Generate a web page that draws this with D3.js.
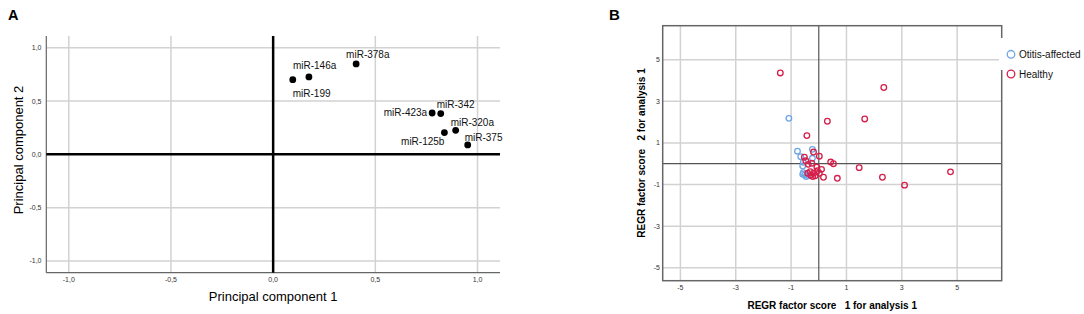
<!DOCTYPE html>
<html>
<head>
<meta charset="utf-8">
<script src="https://cdn.jsdelivr.net/npm/d3@7"></script>
<style>
  body { margin: 0; background: #fff; }
  svg { font-family: "Liberation Sans", Arial, sans-serif; }
  .tick-lbl { font-size: 7px; fill: #333; }
  .grid { stroke: #d2d2d2; stroke-width: 1.5; }
</style>
</head>
<body>
<div id="graf"></div>
<script>
// panel A: loadings
const mirnas = ["miR-199", "miR-146a", "miR-378a", "miR-423a", "miR-342", "miR-320a", "miR-125b", "miR-375"]
const pc1 = [0.096, 0.175, 0.406, 0.778, 0.82, 0.893, 0.838, 0.952]
const pc2 = [0.70, 0.726, 0.848, 0.388, 0.382, 0.225, 0.204, 0.088]
const ticksA = [-1, -0.5, 0, 0.5, 1]

// panel B: factor scores
const healthyX = [-1.39, 2.35, 1.66, 0.31, -0.43, -0.19, 0.02, -0.52, -0.47, 0.43, 0.53, 1.46, 4.76, 2.3, 3.1,
  -0.38, -0.25, -0.07, 0.1, -0.31, -0.19, -0.4, -0.29, -0.13, 0.02, 0.17, 0.67, -0.05, -0.22]
const healthyY = [4.36, 3.66, 2.15, 2.04, 1.35, 0.56, 0.36, 0.31, 0.14, 0.08, 0.0, -0.19, -0.39, -0.65, -1.03,
  -0.03, 0.02, -0.17, -0.27, -0.38, -0.46, -0.46, -0.56, -0.58, -0.46, -0.65, -0.7, -0.34, -0.62]
const otitisX = [-1.08, -0.77, -0.23, -0.65, -0.23, -0.56, -0.58, -0.56, -0.5, -0.58, -0.46, -0.37]
const otitisY = [2.18, 0.6, 0.69, 0.34, 0.26, 0.07, -0.11, -0.43, -0.54, -0.51, -0.62, -0.58]
const ticksB = [-5, -3, -1, 1, 3, 5]
const groups = ["Otitis-affected", "Healthy"]
const groupColors = ["#6ea7e6", "#d61f4b"]

// label placement for panel A (dx, dy, anchor)
const labelPos = [
  [0, 17, "start"], [-16, -8, "start"], [-10, -6, "start"], [-5, 3.5, "end"],
  [-4, -6, "start"], [-5, -4.5, "start"], [0, 12.5, "end"], [-3, -4, "start"]
]

const svg = d3.select("#graf")
  .append("svg")
  .attr("width", 1084)
  .attr("height", 314)

const fmt = (v) => d3.format(".1f")(v).replace(".", ",").replace("−", "-")

// ---------- Panel A ----------
const xA = d3.scaleLinear().domain([-1.11, 1.11]).range([46.3, 500])
const yA = d3.scaleLinear().domain([-1.11, 1.11]).range([272.7, 36])
const gA = svg.append("g")

gA.selectAll(".gx")
  .data(ticksA.filter((t) => t != 0))
  .join("line")
  .attr("class", "grid")
  .attr("x1", (d) => xA(d)).attr("x2", (d) => xA(d))
  .attr("y1", yA.range()[1]).attr("y2", yA.range()[0])

gA.selectAll(".gy")
  .data(ticksA.filter((t) => t != 0))
  .join("line")
  .attr("class", "grid")
  .attr("x1", xA.range()[0]).attr("x2", xA.range()[1])
  .attr("y1", (d) => yA(d)).attr("y2", (d) => yA(d))

// axis lines
gA.append("line")
  .attr("x1", xA.range()[0]).attr("x2", xA.range()[0])
  .attr("y1", yA.range()[1]).attr("y2", yA.range()[0])
  .attr("stroke", "#666").attr("stroke-width", 1.2)
gA.append("line")
  .attr("x1", xA.range()[0]).attr("x2", xA.range()[1])
  .attr("y1", yA.range()[0]).attr("y2", yA.range()[0])
  .attr("stroke", "#666").attr("stroke-width", 1.2)

// zero lines
gA.append("line")
  .attr("x1", xA(0)).attr("x2", xA(0))
  .attr("y1", yA.range()[1]).attr("y2", yA.range()[0])
  .attr("stroke", "#000").attr("stroke-width", 2.5)
gA.append("line")
  .attr("x1", xA.range()[0]).attr("x2", xA.range()[1])
  .attr("y1", yA(0)).attr("y2", yA(0))
  .attr("stroke", "#000").attr("stroke-width", 2.5)

gA.selectAll(".tx")
  .data(ticksA)
  .join("text")
  .attr("class", "tick-lbl")
  .attr("x", (d) => xA(d))
  .attr("y", 281.5)
  .attr("text-anchor", "middle")
  .text(fmt)

gA.selectAll(".ty")
  .data(ticksA)
  .join("text")
  .attr("class", "tick-lbl")
  .attr("x", 41.5)
  .attr("y", (d) => yA(d) + 2.5)
  .attr("text-anchor", "end")
  .text(fmt)

gA.selectAll("circle")
  .data(mirnas)
  .join("circle")
  .attr("cx", (d, i) => xA(pc1[i]))
  .attr("cy", (d, i) => yA(pc2[i]))
  .attr("r", 3.4)
  .attr("fill", "#000")

gA.selectAll(".lbl")
  .data(mirnas)
  .join("text")
  .attr("x", (d, i) => xA(pc1[i]) + labelPos[i][0])
  .attr("y", (d, i) => yA(pc2[i]) + labelPos[i][1])
  .attr("text-anchor", (d, i) => labelPos[i][2])
  .attr("font-size", 10)
  .attr("fill", "#111")
  .text((d) => d)

gA.append("text")
  .attr("x", (xA.range()[0] + xA.range()[1]) / 2 + 0)
  .attr("y", 301)
  .attr("text-anchor", "middle")
  .attr("font-size", 13)
  .text("Principal component 1")

gA.append("text")
  .attr("transform", `translate(22.5, 150) rotate(-90)`)
  .attr("text-anchor", "middle")
  .attr("font-size", 13)
  .text("Principal component 2")

svg.append("text")
  .attr("x", 8).attr("y", 19.5)
  .attr("font-size", 14.5).attr("font-weight", "bold")
  .text("A")

// ---------- Panel B ----------
const xB = d3.scaleLinear().domain([-5.64, 6.61]).range([662.7, 1001.7])
const yB = d3.scaleLinear().domain([-5.62, 6.63]).range([280.7, 25.7])
const gB = svg.append("g")

gB.selectAll(".gx")
  .data(ticksB)
  .join("line")
  .attr("class", "grid")
  .attr("x1", (d) => xB(d)).attr("x2", (d) => xB(d))
  .attr("y1", yB.range()[1]).attr("y2", yB.range()[0])

gB.selectAll(".gy")
  .data(ticksB)
  .join("line")
  .attr("class", "grid")
  .attr("x1", xB.range()[0]).attr("x2", xB.range()[1])
  .attr("y1", (d) => yB(d)).attr("y2", (d) => yB(d))

gB.append("line")
  .attr("x1", xB(0)).attr("x2", xB(0))
  .attr("y1", yB.range()[1]).attr("y2", yB.range()[0])
  .attr("stroke", "#555").attr("stroke-width", 1.2)
gB.append("line")
  .attr("x1", xB.range()[0]).attr("x2", xB.range()[1])
  .attr("y1", yB(0)).attr("y2", yB(0))
  .attr("stroke", "#555").attr("stroke-width", 1.2)

gB.append("rect")
  .attr("x", xB.range()[0]).attr("y", yB.range()[1])
  .attr("width", xB.range()[1] - xB.range()[0])
  .attr("height", yB.range()[0] - yB.range()[1])
  .attr("fill", "none")
  .attr("stroke", "#666").attr("stroke-width", 1.5)

gB.selectAll(".tx")
  .data(ticksB)
  .join("text")
  .attr("class", "tick-lbl")
  .attr("x", (d) => xB(d))
  .attr("y", 290)
  .attr("text-anchor", "middle")
  .text((d) => d)

gB.selectAll(".ty")
  .data(ticksB)
  .join("text")
  .attr("class", "tick-lbl")
  .attr("x", 660)
  .attr("y", (d) => yB(d) + 2.5)
  .attr("text-anchor", "end")
  .text((d) => d)

const otitis = otitisX.map((v, i) => [v, otitisY[i]])
const healthy = healthyX.map((v, i) => [v, healthyY[i]])

gB.selectAll(".pt-o")
  .data(otitis)
  .join("circle")
  .attr("cx", (d) => xB(d[0]))
  .attr("cy", (d) => yB(d[1]))
  .attr("r", 2.8)
  .attr("fill", "none")
  .attr("stroke", groupColors[0])
  .attr("stroke-width", 1.3)

gB.selectAll(".pt-h")
  .data(healthy)
  .join("circle")
  .attr("cx", (d) => xB(d[0]))
  .attr("cy", (d) => yB(d[1]))
  .attr("r", 2.8)
  .attr("fill", "none")
  .attr("stroke", groupColors[1])
  .attr("stroke-width", 1.3)

// legend (white box covers the frame)
svg.append("rect")
  .attr("x", 999).attr("y", 38).attr("width", 85).attr("height", 32)
  .attr("fill", "#fff")

const leg = svg.selectAll(".leg")
  .data(groups)
  .join("g")
  .attr("transform", (d, i) => `translate(1011, ${54.3 + i * 19.7})`)
leg.append("circle")
  .attr("r", 3.8)
  .attr("fill", "none")
  .attr("stroke", (d, i) => groupColors[i])
  .attr("stroke-width", 1.3)
leg.append("text")
  .attr("x", 8)
  .attr("y", 3.6)
  .attr("font-size", 10)
  .attr("fill", "#111")
  .text((d) => d)

gB.append("text")
  .attr("x", (xB.range()[0] + xB.range()[1]) / 2)
  .attr("y", 309)
  .attr("text-anchor", "middle")
  .attr("font-size", 10)
  .attr("font-weight", "bold")
  .style("white-space", "pre")
  .text("REGR factor score   1 for analysis 1")

gB.append("text")
  .attr("transform", `translate(644.5, 153) rotate(-90)`)
  .attr("text-anchor", "middle")
  .attr("font-size", 10)
  .attr("font-weight", "bold")
  .style("white-space", "pre")
  .text("REGR factor score   2 for analysis 1")

svg.append("text")
  .attr("x", 609).attr("y", 20)
  .attr("font-size", 15).attr("font-weight", "bold")
  .text("B")
</script>
</body>
</html>
